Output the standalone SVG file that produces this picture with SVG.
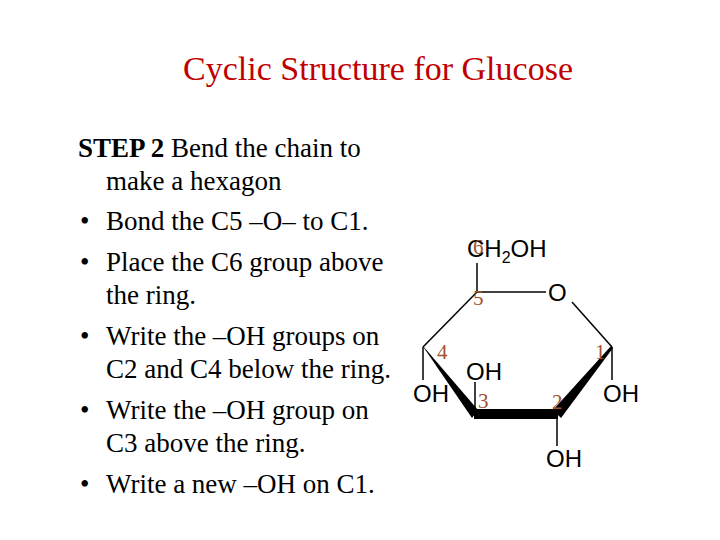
<svg xmlns="http://www.w3.org/2000/svg" width="720" height="540" viewBox="0 0 720 540">
<style>
.t{font-family:"Liberation Serif",serif;font-size:27px;fill:#000}
.a{font-family:"Liberation Sans",sans-serif;font-size:24px;fill:#000}
.n{font-family:"Liberation Serif",serif;font-size:21px;fill:#a0522d}
.b{stroke:#000;stroke-width:1.5;fill:none}
</style>
<rect width="720" height="540" fill="#fff"/>
<text x="378" y="80" text-anchor="middle" font-family="Liberation Serif,serif" font-size="34" fill="#c00000">Cyclic Structure for Glucose</text>
<g id="text">
<text class="t" x="78" y="157"><tspan font-weight="bold">STEP 2</tspan> Bend the chain to</text>
<text class="t" x="106" y="190">make a hexagon</text>
<text class="t" x="80" y="230">•<tspan x="106">Bond the C5 –O–  to C1.</tspan></text>
<text class="t" x="80" y="271">•<tspan x="106">Place the C6 group above</tspan></text>
<text class="t" x="106" y="304">the ring.</text>
<text class="t" x="80" y="345">•<tspan x="106">Write the –OH groups on</tspan></text>
<text class="t" x="106" y="378">C2 and C4 below the ring.</text>
<text class="t" x="80" y="419">•<tspan x="106">Write the –OH group on</tspan></text>
<text class="t" x="106" y="452">C3  above the ring.</text>
<text class="t" x="80" y="493">•<tspan x="106">Write a new –OH on C1.</tspan></text>
</g>
<g id="connectors">
<line class="b" x1="477" y1="263" x2="477" y2="292"/>
<line class="b" x1="477" y1="292" x2="546" y2="292"/>
<line class="b" x1="572" y1="302" x2="612" y2="347"/>
<line class="b" x1="477" y1="292" x2="423" y2="347"/>
<line class="b" x1="423" y1="347" x2="423" y2="380"/>
<line class="b" x1="475" y1="414" x2="475" y2="382"/>
<line class="b" x1="557" y1="414" x2="557" y2="446"/>
<line class="b" x1="612" y1="347" x2="612" y2="380"/>
<polygon points="423,346 478,410 472,418 424,348" fill="#000"/>
<polygon points="474,409 558,409 558,419 474,419" fill="#000"/>
<polygon points="553,410 561,418 613,348 611,346" fill="#000"/>
</g>
<g id="atoms">
<text class="a" x="467" y="257">CH<tspan font-size="16" dy="6">2</tspan><tspan dy="-6">OH</tspan></text>
<text class="a" x="548" y="301">O</text>
<text class="a" x="413" y="402">OH</text>
<text class="a" x="466" y="380">OH</text>
<text class="a" x="546" y="467">OH</text>
<text class="a" x="603" y="402">OH</text>
</g>
<g id="numbers">
<text class="n" x="473" y="254">6</text>
<text class="n" x="473" y="305">5</text>
<text class="n" x="437" y="359">4</text>
<text class="n" x="478" y="408">3</text>
<text class="n" x="552" y="409">2</text>
<text class="n" x="595" y="359">1</text>
</g>
</svg>
